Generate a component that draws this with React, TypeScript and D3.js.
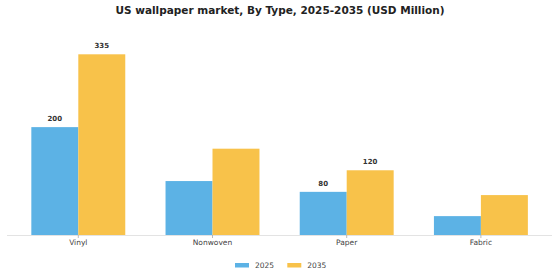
import React from "react";
import * as d3 from "d3";

const categories = ["Vinyl", "Nonwoven", "Paper", "Fabric"];
const years = ["2025", "2035"];
const values2025 = [200, 100, 80, 35];
const values2035 = [335, 160, 120, 74];
const labels2025 = ["200", "", "80", ""];
const labels2035 = ["335", "", "120", ""];
const colors = ["#5cb2e5", "#f8c24a"];
const title = "US wallpaper market, By Type, 2025-2035 (USD Million)";

export default function App() {
  const W = 560, H = 280;
  const baseY = 235;
  const x0 = d3.scaleBand<string>().domain(categories).range([11.2, 548]).paddingInner(0.3).paddingOuter(0.15);
  const x1 = d3.scaleBand<string>().domain(years).range([0, x0.bandwidth()]);
  const y = d3.scaleLinear().domain([0, 335]).range([baseY, 54.3]);
  const series = [values2025, values2035];
  const labels = [labels2025, labels2035];
  return (
    <svg width={W} height={H} style={{ position: "absolute", left: 0, top: 0, background: "#fff" }} fontFamily="DejaVu Sans, sans-serif">
      <text x={280} y={14} textAnchor="middle" fontWeight="bold" fontSize={10.5} fill="#222">{title}</text>
      <line x1={7} x2={552} y1={baseY + 0.5} y2={baseY + 0.5} stroke="#e3e3e3" strokeWidth={1} />
      {categories.map((c, i) => (
        <g key={c}>
          {years.map((yr, j) => {
            const v = series[j][i];
            const bx = (x0(c) ?? 0) + (x1(yr) ?? 0);
            return (
              <g key={yr}>
                <rect x={bx} y={y(v)} width={x1.bandwidth()} height={baseY - y(v)} fill={colors[j]} />
                {labels[j][i] && (
                  <text x={bx + x1.bandwidth() / 2} y={y(v) - 6} textAnchor="middle" fontSize={7} fontWeight="bold" fill="#333">{labels[j][i]}</text>
                )}
              </g>
            );
          })}
          <line x1={(x0(c) ?? 0) + x0.bandwidth() / 2} x2={(x0(c) ?? 0) + x0.bandwidth() / 2} y1={baseY} y2={baseY + 3} stroke="#aaa" strokeWidth={0.8} />
          <text x={(x0(c) ?? 0) + x0.bandwidth() / 2} y={245} textAnchor="middle" fontSize={7.5} fill="#444">{c}</text>
        </g>
      ))}
      {years.map((yr, j) => (
        <g key={yr} transform={`translate(${235 + j * 52.3},0)`}>
          <rect x={0} y={263} width={14} height={4.5} fill={colors[j]} />
          <text x={20} y={268} fontSize={7.5} fill="#444">{yr}</text>
        </g>
      ))}
    </svg>
  );
}
